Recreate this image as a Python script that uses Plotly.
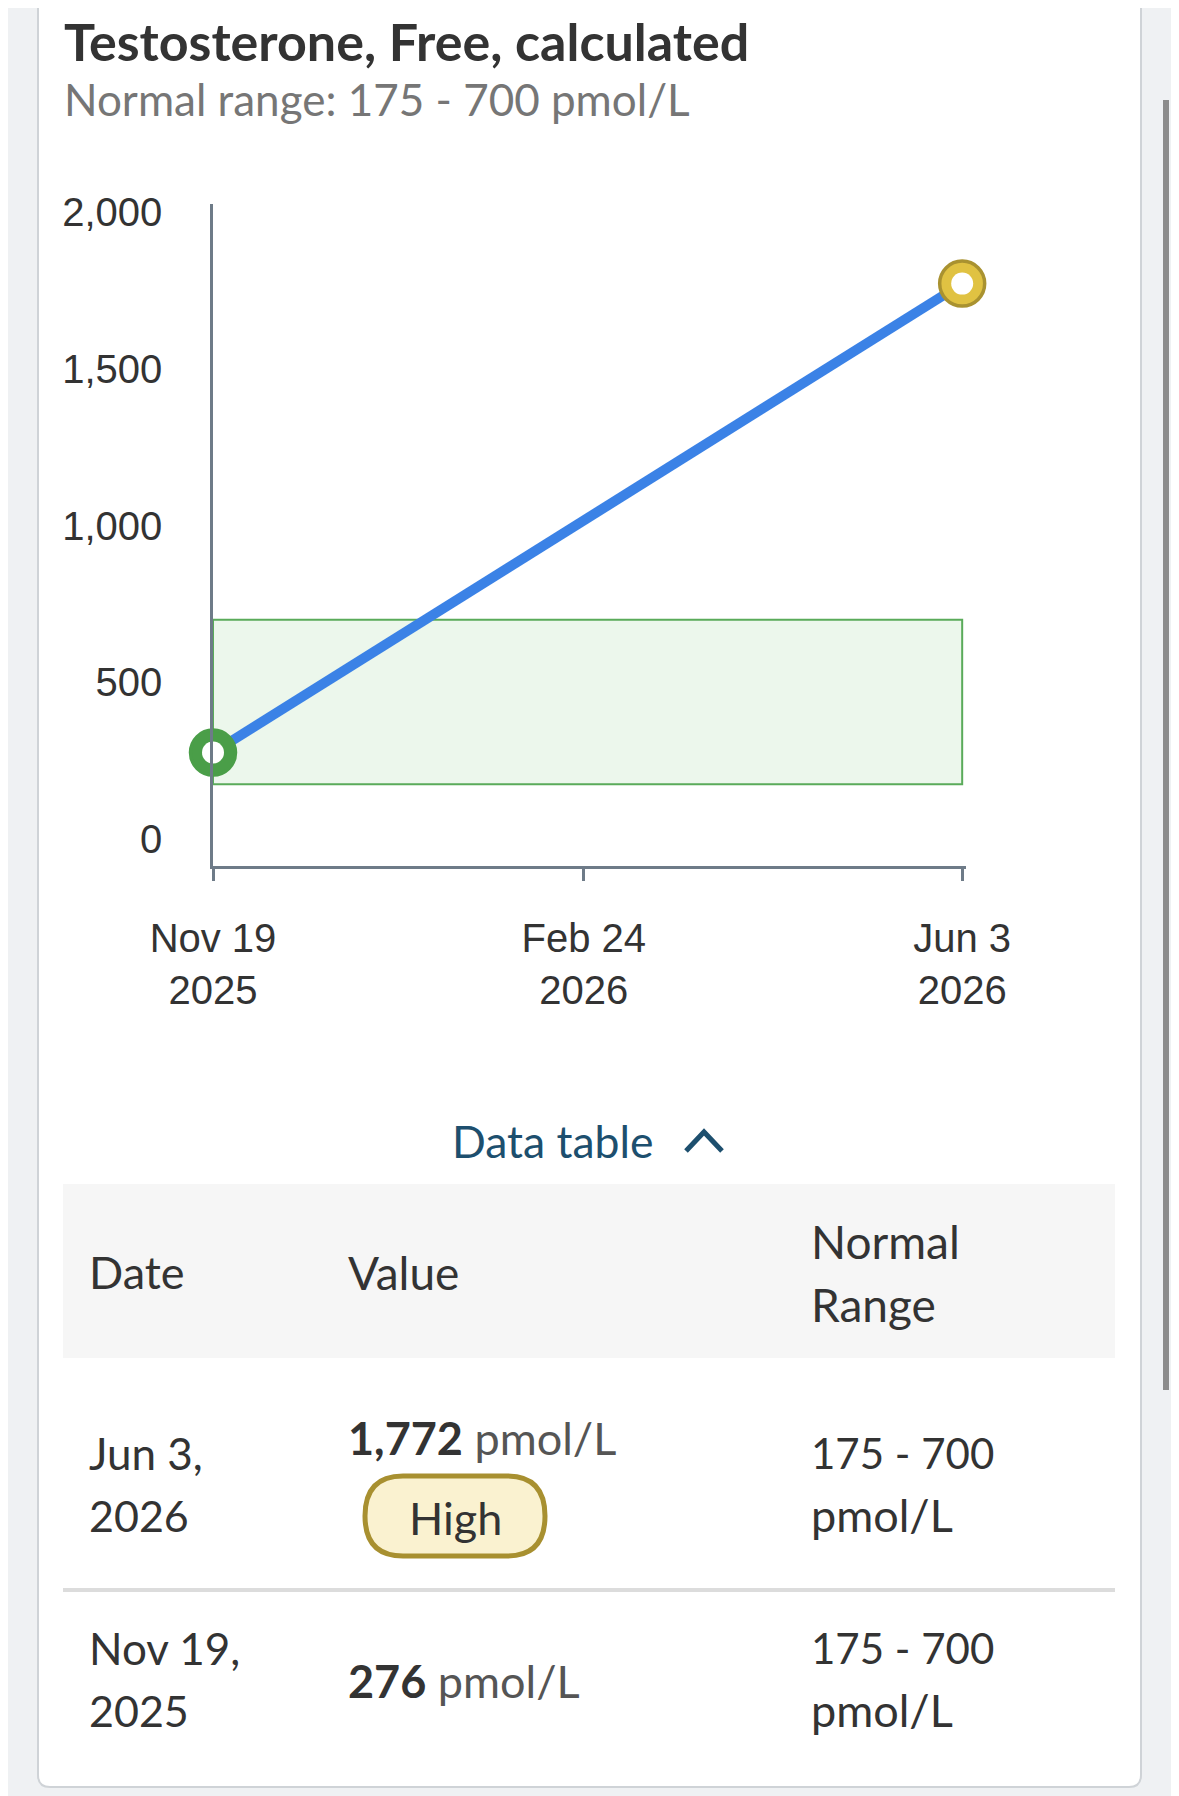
import plotly.graph_objects as go

# data
dates = ["2025-11-19", "2026-06-03"]
values = [276, 1772]
status = ["normal", "high"]
range_low = 175
range_high = 700
unit = "pmol/L"

x_tick_vals = ["2025-11-19", "2026-02-24", "2026-06-03"]
x_tick_text = ["Nov 19<br>2025", "Feb 24<br>2026", "Jun 3<br>2026"]
y_tick_vals = [0, 500, 1000, 1500, 2000]

table_dates = [("Jun 3,", "2026"), ("Nov 19,", "2025")]
table_values = [1772, 276]
table_flags = ["High", ""]

# page is 1179x1796, the body margin of the page eats 8px on top and left
OFF = 8
W, H = 1179 - OFF, 1796 - OFF
UI_FONT = "Lato"
AX_FONT = "Liberation Sans"


def X(px):
    return (px - OFF) / W


def Y(py):
    return 1 - (py - OFF) / H


marker_colors = {"normal": "#4a9e48", "high": "#e0c242"}
marker_edges = {"normal": "#4a9e48", "high": "#a99230"}

fig = go.Figure()

# trend line
fig.add_trace(go.Scatter(
    x=dates, y=values, mode="lines",
    line=dict(color="#3b82e6", width=10),
    hoverinfo="skip", showlegend=False, cliponaxis=False,
))
# ring markers
fig.add_trace(go.Scatter(
    x=dates, y=values, mode="markers",
    marker=dict(
        size=45,
        color=[marker_colors[s] for s in status],
        line=dict(color=[marker_edges[s] for s in status], width=3.5),
    ),
    showlegend=False, cliponaxis=False,
))
fig.add_trace(go.Scatter(
    x=dates, y=values, mode="markers",
    marker=dict(size=22, color="white"),
    hoverinfo="skip", showlegend=False, cliponaxis=False,
))

shapes = []
# card
shapes.append(dict(
    type="path", xref="paper", yref="paper", layer="below",
    path=f"M {X(38)} {Y(-10)} L {X(38)} {Y(1775)} Q {X(38)} {Y(1787)} {X(50)} {Y(1787)} "
         f"L {X(1129)} {Y(1787)} Q {X(1141)} {Y(1787)} {X(1141)} {Y(1775)} L {X(1141)} {Y(-10)} Z",
    fillcolor="white", line=dict(color="#cfd3d7", width=2),
))
# scrollbar
shapes.append(dict(
    type="line", xref="paper", yref="paper",
    x0=X(1166), x1=X(1166), y0=Y(100), y1=Y(1390),
    line=dict(color="#8c8c8c", width=6),
))
# normal range band
shapes.append(dict(
    type="rect", xref="x", yref="y", layer="below",
    x0=dates[0], x1=dates[-1], y0=range_low, y1=range_high,
    fillcolor="#ecf7ec", line=dict(color="#5aab5a", width=2),
))
# table header background
shapes.append(dict(
    type="rect", xref="paper", yref="paper", layer="below",
    x0=X(63), x1=X(1115), y0=Y(1184), y1=Y(1358),
    fillcolor="#f6f6f6", line=dict(width=0),
))
# row separator
shapes.append(dict(
    type="line", xref="paper", yref="paper",
    x0=X(63), x1=X(1115), y0=Y(1590), y1=Y(1590),
    line=dict(color="#dcdcdc", width=4),
))
# chevron
shapes.append(dict(
    type="path", xref="paper", yref="paper",
    path=f"M {X(686)} {Y(1151)} L {X(704)} {Y(1132)} L {X(722)} {Y(1151)}",
    line=dict(color="#1d4f6e", width=5),
))

annotations = []


def text(px, py, s, size, color="#333333", anchor="left", family=UI_FONT):
    annotations.append(dict(
        x=X(px), y=Y(py), xref="paper", yref="paper", text=s,
        showarrow=False, xanchor=anchor, yanchor="middle",
        font=dict(family=family, size=size, color=color),
    ))


text(62, 41, "<b>Testosterone, Free, calculated</b>", 52)
text(62, 99, f"Normal range: {range_low} - {range_high} {unit}", 44, "#767676")
text(553, 1140, "Data table", 44.5, "#1d4f6e", "center")

# table header
text(87, 1272, "Date", 45)
text(346, 1272, "Value", 46)
text(809, 1241, "Normal", 46)
text(809, 1304, "Range", 46)

row_y = [(1453, 1515, 1438), (1648, 1710, 1681)]
for (d1, d2), val, flag, (ya, yb, yv) in zip(table_dates, table_values, table_flags, row_y):
    text(87, ya, d1, 44)
    text(87, yb, d2, 43)
    text(346, yv, f"<b>{val:,}</b> <span style='color:#555555'>{unit}</span>", 45)
    text(809, ya, f"{range_low} - {range_high}", 42)
    text(809, yb, unit, 45)
    if flag:
        x0, x1, y0, y1, r = 365, 545, 1476, 1556, 38
        shapes.append(dict(
            type="path", xref="paper", yref="paper",
            path=(f"M {X(x0 + r)} {Y(y0)} L {X(x1 - r)} {Y(y0)} "
                  f"Q {X(x1)} {Y(y0)} {X(x1)} {Y((y0 + y1) / 2)} "
                  f"Q {X(x1)} {Y(y1)} {X(x1 - r)} {Y(y1)} "
                  f"L {X(x0 + r)} {Y(y1)} "
                  f"Q {X(x0)} {Y(y1)} {X(x0)} {Y((y0 + y1) / 2)} "
                  f"Q {X(x0)} {Y(y0)} {X(x0 + r)} {Y(y0)} Z"),
            fillcolor="#faf2d0", line=dict(color="#a89030", width=5),
        ))
        text((x0 + x1) / 2, 1518, flag, 45, anchor="center")

fig.update_layout(
    width=W, height=H,
    margin=dict(l=0, r=0, t=0, b=0, pad=0),
    paper_bgcolor="#eff1f3",
    plot_bgcolor="rgba(0,0,0,0)",
    shapes=shapes,
    annotations=annotations,
    xaxis=dict(
        domain=[X(213), X(966)],
        type="date",
        range=["2025-11-19", "2026-06-04"],
        tickvals=x_tick_vals, ticktext=x_tick_text,
        showline=True, linecolor="#6e7b88", linewidth=2.5,
        ticks="outside", ticklen=12, tickwidth=2.5, tickcolor="#6e7b88",
        ticklabelstandoff=23,
        showgrid=False, zeroline=False, automargin=False,
        tickfont=dict(family=AX_FONT, size=40, color="#333333"),
        fixedrange=True,
    ),
    yaxis=dict(
        domain=[Y(866), Y(204)],
        range=[-86, 2026],
        tickvals=y_tick_vals, tickformat=",d",
        showline=True, linecolor="#6e7b88", linewidth=2.5,
        ticks="", ticklabelstandoff=40,
        showgrid=False, zeroline=False, automargin=False,
        tickfont=dict(family=AX_FONT, size=40, color="#333333"),
        fixedrange=True,
    ),
    hovermode=False,
)

fig.write_html("out.html")
